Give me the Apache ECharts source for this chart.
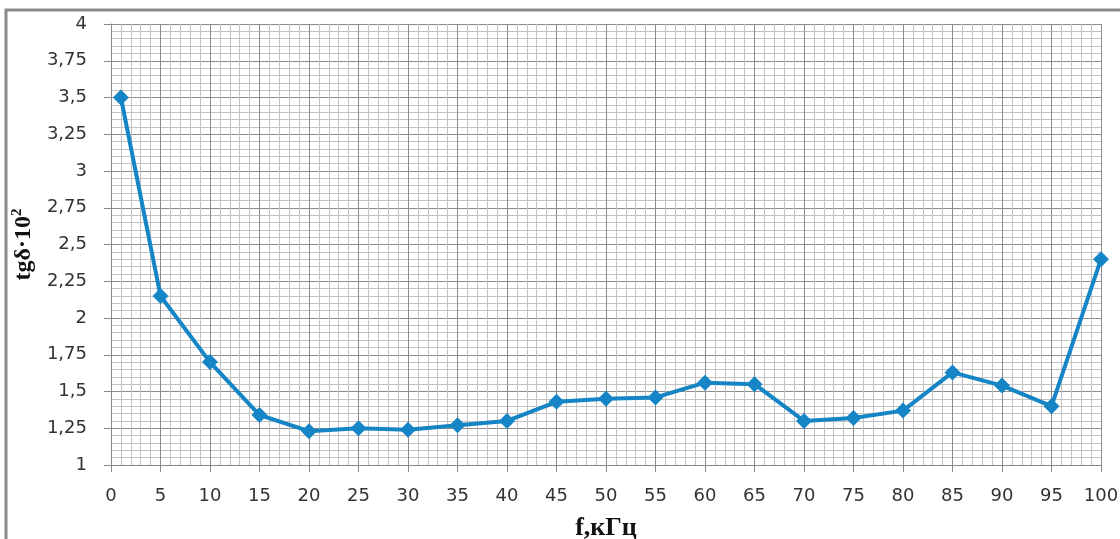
<!DOCTYPE html>
<html><head><meta charset="utf-8">
<script src="https://cdn.jsdelivr.net/npm/echarts@6/dist/echarts.min.js"></script>
<style>html,body{margin:0;padding:0;background:#fff}#c{width:1120px;height:539px}</style>
</head><body><div id="c"></div>
<script>
const freq = [1, 5, 10, 15, 20, 25, 30, 35, 40, 45, 50, 55, 60, 65, 70, 75, 80, 85, 90, 95, 100];
const tgd = [3.5, 2.15, 1.70, 1.34, 1.23, 1.25, 1.24, 1.27, 1.30, 1.43, 1.45, 1.46, 1.56, 1.55, 1.30, 1.32, 1.37, 1.63, 1.54, 1.40, 2.40];
const xTitle = 'f,кГц';
const yTitle = 'tgδ·10';
const yTitleSup = '2';

const chart = echarts.init(document.getElementById('c'), null, {renderer: 'canvas'});
const labelFont = {fontFamily: 'DejaVu Sans', fontSize: 18, color: '#333'};
chart.setOption({
  animation: false,
  graphic: [{
    type: 'rect', shape: {x: 6, y: 10, width: 1200, height: 600},
    style: {fill: 'none', stroke: '#8a8a8a', lineWidth: 3}, z: -10, silent: true
  }],
  grid: {left: 111, right: 19, top: 24, bottom: 74, outerBoundsMode: 'none', containLabel: false},
  xAxis: {
    type: 'value', min: 0, max: 100, interval: 5,
    name: xTitle, nameLocation: 'middle', nameGap: 50,
    nameTextStyle: {fontFamily: 'Liberation Serif', fontWeight: 'bold', fontSize: 26, color: '#111'},
    axisLine: {show: true, lineStyle: {color: '#888', width: 1}},
    axisTick: {show: true, length: 7, lineStyle: {color: '#888'}},
    axisLabel: Object.assign({margin: 22}, labelFont),
    splitLine: {show: true, lineStyle: {color: '#8c8c8c', width: 1}},
    minorTick: {show: false, splitNumber: 5},
    minorSplitLine: {show: true, lineStyle: {color: '#c2c2c2', width: 1}}
  },
  yAxis: {
    type: 'value', min: 1, max: 4, interval: 0.25,
    name: '{a|' + yTitle + '}{s|' + yTitleSup + '}', nameLocation: 'middle', nameGap: 74, nameRotate: 90,
    nameTextStyle: {
      rich: {
        a: {fontFamily: 'Liberation Serif', fontWeight: 'bold', fontSize: 24, color: '#111'},
        s: {fontFamily: 'Liberation Serif', fontWeight: 'bold', fontSize: 15, color: '#111', verticalAlign: 'top', padding: [0, 0, 12, 0]}
      }
    },
    axisLine: {show: true, lineStyle: {color: '#888', width: 1}},
    axisTick: {show: true, length: 7, lineStyle: {color: '#888'}},
    axisLabel: Object.assign({margin: 24, formatter: v => String(v).replace('.', ',')}, labelFont),
    splitLine: {show: true, lineStyle: {color: '#8c8c8c', width: 1}},
    minorTick: {show: false, splitNumber: 5},
    minorSplitLine: {show: true, lineStyle: {color: '#c2c2c2', width: 1}}
  },
  series: [{
    type: 'line',
    data: freq.map((f, i) => [f, tgd[i]]),
    symbol: 'diamond', symbolSize: 16,
    lineStyle: {color: '#1585c6', width: 4},
    itemStyle: {color: '#1585c6'},
    z: 5
  }]
});
</script></body></html>
